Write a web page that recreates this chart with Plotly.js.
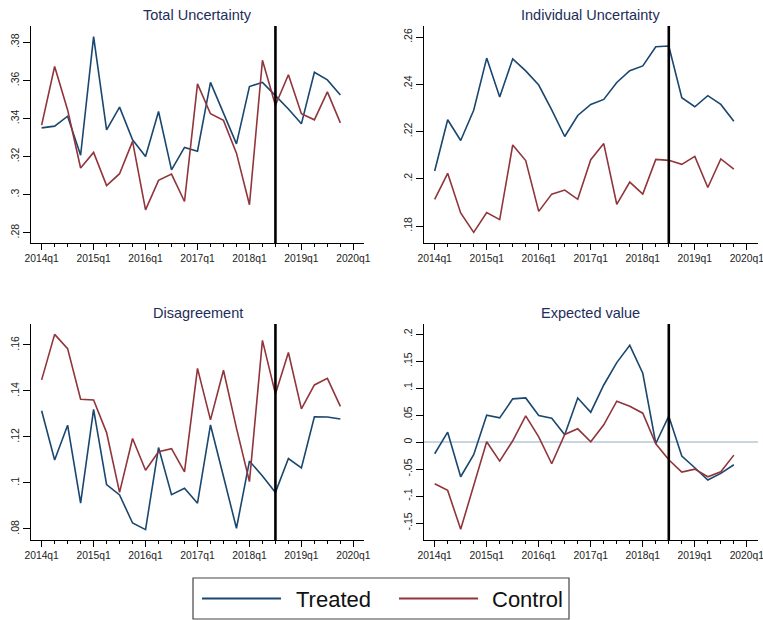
<!DOCTYPE html>
<html>
<head>
<meta charset="utf-8">
<script src="https://cdn.plot.ly/plotly-3.0.1.min.js"></script>
<style>html,body{margin:0;padding:0;background:#fff;}#chart{width:763px;height:620px;}</style>
</head>
<body>
<div id="chart"></div>
<script>
// ---- data ----
const quarters = ["2014q1","2014q2","2014q3","2014q4","2015q1","2015q2","2015q3","2015q4",
  "2016q1","2016q2","2016q3","2016q4","2017q1","2017q2","2017q3","2017q4",
  "2018q1","2018q2","2018q3","2018q4","2019q1","2019q2","2019q3","2019q4"];
const xTickLabels = ["2014q1","2015q1","2016q1","2017q1","2018q1","2019q1","2020q1"];
const treatmentQuarter = "2018q3";

const totalTreated = [.3351,.3360,.3412,.3207,.3830,.3340,.3460,.3288,.3200,.3437,.3130,.3248,
  .3228,.3590,.3428,.3267,.3568,.3590,.3520,.3450,.3372,.3643,.3603,.3524];
const totalControl = [.3365,.3673,.3445,.3140,.3222,.3048,.3110,.3280,.2920,.3075,.3108,.2964,
  .3582,.3425,.3390,.3218,.2947,.3706,.3470,.3630,.3425,.3393,.3540,.3377];

const indivTreated = [.2033,.2250,.2162,.2290,.2511,.2346,.2508,.2457,.2397,.2292,.2179,.2268,
  .2315,.2336,.2408,.2458,.2478,.2559,.2562,.2343,.2305,.2352,.2315,.2244];
const indivControl = [.1913,.2023,.1855,.1773,.1857,.1827,.2143,.2077,.1862,.1935,.1952,.1913,
  .2081,.2149,.1892,.1986,.1935,.2082,.2078,.2061,.2095,.1963,.2084,.2041];

const disTreated = [.1314,.1100,.1251,.0912,.1320,.0993,.0948,.0826,.0797,.1154,.0949,.0977,
  .0912,.1252,.1028,.0803,.1095,.1030,.0959,.1106,.1065,.1288,.1287,.1278];
const disControl = [.1448,.1646,.1584,.1364,.1361,.1219,.0959,.1193,.1055,.1136,.1149,.1048,
  .1498,.1274,.1490,.1238,.1006,.1620,.1387,.1567,.1322,.1426,.1455,.1333];

const evTreated = [-.0216,.0185,-.0642,-.0234,.0500,.0450,.0802,.0820,.0494,.0444,.0136,.0820,
  .0555,.1060,.1475,.1795,.1277,-.0025,.0481,-.0259,-.0475,-.0703,-.0580,-.0420];
const evControl = [-.0771,-.0895,-.1617,-.0800,.0006,-.0352,.0025,.0487,.0099,-.0401,.0142,.0247,
  .0006,.0321,.0759,.0666,.0537,-.0030,-.0327,-.0555,-.0500,-.0642,-.0550,-.0241];

const yTicks1 = [.28,.30,.32,.34,.36,.38], yText1 = [".28",".3",".32",".34",".36",".38"];
const yTicks2 = [.18,.20,.22,.24,.26], yText2 = [".18",".2",".22",".24",".26"];
const yTicks3 = [.08,.10,.12,.14,.16], yText3 = [".08",".1",".12",".14",".16"];
const yTicks4 = [-.15,-.10,-.05,0,.05,.10,.15,.20], yText4 = ["-.15","-.1","-.05","0",".05",".1",".15",".2"];

const panelTitles = ["Total Uncertainty","Individual Uncertainty","Disagreement","Expected value"];
const seriesNames = ["Treated","Control"];

// ---- styling ----
const NAVY = "#1a476f", MAROON = "#90353b", TITLE = "#1e2d59";
const FONT = "Arial, 'Liberation Sans', sans-serif";
const W = 763, H = 620;
const xIdx = quarters.map((q, i) => i);
const xTickVals = xTickLabels.map((q, i) => i * 4);
const vlineX = quarters.indexOf(treatmentQuarter);

function px(x) { return x / W; }
function py(y) { return 1 - y / H; }

const panels = [
  {t: totalTreated, c: totalControl, range: [.2746, .3886], tv: yTicks1, tt: yText1, x0: 31, x1: 364, y0: 26, y1: 243},
  {t: indivTreated, c: indivControl, range: [.1728, .2647], tv: yTicks2, tt: yText2, x0: 424, x1: 757.5, y0: 26, y1: 243},
  {t: disTreated, c: disControl, range: [.0752, .1691], tv: yTicks3, tt: yText3, x0: 31, x1: 364, y0: 324, y1: 540},
  {t: evTreated, c: evControl, range: [-.1815, .2191], tv: yTicks4, tt: yText4, x0: 424, x1: 757.5, y0: 324, y1: 540}
];

const traces = [];
const layout = {
  width: W, height: H,
  margin: {l: 0, r: 0, t: 0, b: 0},
  paper_bgcolor: "#fff", plot_bgcolor: "#fff",
  showlegend: false,
  font: {family: FONT, color: "#222", size: 11},
  shapes: [], annotations: []
};

panels.forEach((p, i) => {
  const n = i + 1;
  const xa = "x" + (n === 1 ? "" : n), ya = "y" + (n === 1 ? "" : n);
  const xKey = "xaxis" + (n === 1 ? "" : n), yKey = "yaxis" + (n === 1 ? "" : n);
  traces.push({x: xIdx, y: p.t, type: "scatter", mode: "lines", name: seriesNames[0],
    line: {color: NAVY, width: 1.6}, xaxis: xa, yaxis: ya});
  traces.push({x: xIdx, y: p.c, type: "scatter", mode: "lines", name: seriesNames[1],
    line: {color: MAROON, width: 1.6}, xaxis: xa, yaxis: ya});
  layout[xKey] = {
    domain: [px(p.x0), px(p.x1)], anchor: ya, range: [-0.82, 24.82],
    tickmode: "array", tickvals: xTickVals, ticktext: xTickLabels,
    ticks: "outside", ticklen: 6, tickwidth: 1, tickcolor: "#000",
    minor: {ticks: "outside", tickmode: "linear", tick0: 0, dtick: 1, ticklen: 3, tickwidth: 1, tickcolor: "#000", showgrid: false},
    showline: true, linecolor: "#000", linewidth: 1, mirror: false,
    showgrid: false, zeroline: false, tickangle: 0, ticklabeloverflow: "allow",
    tickfont: {size: 10.3, color: "#222", family: FONT}
  };
  layout[yKey] = {
    domain: [py(p.y1), py(p.y0)], anchor: xa, range: p.range,
    tickmode: "array", tickvals: p.tv, ticktext: p.tt, tickangle: -90,
    ticks: "outside", ticklen: 7, tickwidth: 1, tickcolor: "#000",
    showline: true, linecolor: "#000", linewidth: 1, ticklabeloverflow: "allow",
    showgrid: false, zeroline: n === 4, zerolinecolor: "#c9d5df", zerolinewidth: 2.5,
    tickfont: {size: 10.5, color: "#222", family: FONT}
  };
  layout.shapes.push({type: "line", xref: xa, yref: ya + " domain", x0: vlineX, x1: vlineX, y0: 0, y1: 1,
    line: {color: "#000", width: 2.6}});
  layout.annotations.push({text: panelTitles[i], xref: "paper", yref: "paper",
    x: px((p.x0 + p.x1) / 2), y: py(p.y0 - 11), xanchor: "center", yanchor: "middle",
    showarrow: false, font: {size: 14.5, color: TITLE, family: FONT}});
});

// legend box (Stata-style, below the panels)
layout.shapes.push({type: "rect", xref: "paper", yref: "paper", x0: px(193), x1: px(569), y0: py(619), y1: py(578),
  line: {color: "#444", width: 1.2}, fillcolor: "rgba(0,0,0,0)"});
layout.shapes.push({type: "line", xref: "paper", yref: "paper", x0: px(202), x1: px(281), y0: py(598.5), y1: py(598.5),
  line: {color: NAVY, width: 2}});
layout.shapes.push({type: "line", xref: "paper", yref: "paper", x0: px(399), x1: px(478), y0: py(598.5), y1: py(598.5),
  line: {color: MAROON, width: 2}});
layout.annotations.push({text: seriesNames[0], xref: "paper", yref: "paper", x: px(294), y: py(599), xanchor: "left", yanchor: "middle",
  showarrow: false, font: {size: 22, color: "#111", family: FONT}});
layout.annotations.push({text: seriesNames[1], xref: "paper", yref: "paper", x: px(490), y: py(599), xanchor: "left", yanchor: "middle",
  showarrow: false, font: {size: 22, color: "#111", family: FONT}});

Plotly.newPlot("chart", traces, layout, {staticPlot: true, displayModeBar: false});
</script>
</body>
</html>
